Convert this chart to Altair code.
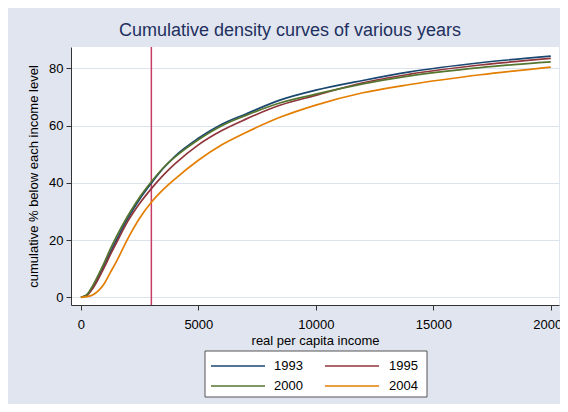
import altair as alt
import pandas as pd

# income grid (x values at which curves were read)
income = [0, 250, 500, 750, 1000, 1250, 1500, 2000, 2500, 3000, 3500, 4000, 5000,
          6000, 7000, 8500, 10000, 12000, 14000, 17000, 20000]

cum_1993 = [0, 0.7, 3.4, 7.0, 11.2, 15.6, 19.8, 27.6, 34.3, 39.9, 45.0, 49.3, 55.6,
            60.5, 64.0, 69.0, 72.4, 75.8, 78.8, 82.0, 84.3]
cum_1995 = [0, 0.6, 3.0, 6.5, 10.5, 14.8, 18.8, 26.6, 32.8, 38.0, 42.6, 46.6, 53.3,
            58.3, 62.2, 67.2, 70.6, 75.0, 78.0, 81.2, 83.5]
cum_2000 = [0, 0.9, 4.0, 7.9, 12.2, 16.8, 21.0, 28.5, 35.0, 40.4, 45.2, 49.0, 55.1,
            60.0, 63.5, 68.0, 71.0, 74.6, 77.4, 80.3, 82.3]
cum_2004 = [0, 0.2, 0.8, 2.3, 4.8, 8.6, 12.3, 20.5, 27.6, 33.2, 37.6, 41.3, 47.9,
            53.3, 57.5, 63.0, 67.2, 71.5, 74.4, 77.8, 80.5]

years = ["1993", "1995", "2000", "2004"]
colors = ["#1A476F", "#90353B", "#55752F", "#E37E00"]
ref_income = [3000]

series = {"1993": cum_1993, "1995": cum_1995, "2000": cum_2000, "2004": cum_2004}
rows = []
for i, y in enumerate(years):
    for xv, cv in zip(income, series[y]):
        rows.append({"income": xv, "cum": cv, "year": y, "order": i})
df = pd.DataFrame(rows)
ref_df = pd.DataFrame({"income": ref_income})

# legend layout (pixel positions relative to the plot area), 2 columns x 2 rows
leg_rows = []
for i, (y, c) in enumerate(zip(years, colors)):
    col, row = i % 2, i // 2
    leg_rows.append({"year": y, "color": c,
                     "lx1": 140 + col * 114, "lx2": 194 + col * 114,
                     "ly": 319 + row * 20, "tx": 232 + col * 115})
leg_df = pd.DataFrame(leg_rows)
box_df = pd.DataFrame({"bx1": [134], "bx2": [356], "by1": [304], "by2": [350]})

FONT = "Liberation Sans"

xscale = alt.Scale(domain=[-420, 20350], nice=False, zero=False)
yscale = alt.Scale(domain=[-2.7, 87.5], nice=False, zero=False)

lines = alt.Chart(df).mark_line(strokeWidth=1.7, interpolate="monotone").encode(
    x=alt.X("income:Q", scale=xscale,
            axis=alt.Axis(title="real per capita income", values=[0, 5000, 10000, 15000, 20000],
                          format="d", grid=False, labelFlush=False, labelOverlap=False,
                          labelPadding=8, titlePadding=3)),
    y=alt.Y("cum:Q", scale=yscale,
            axis=alt.Axis(title="cumulative % below each income level", values=[0, 20, 40, 60, 80],
                          grid=True, labelPadding=3, titlePadding=8)),
    color=alt.Color("year:N", scale=alt.Scale(domain=years, range=colors), legend=None),
    order=alt.Order("order:Q"),
)

rule = alt.Chart(ref_df).mark_rule(color="#C83C64", strokeWidth=1.5).encode(
    x=alt.X("income:Q", scale=xscale)
)

box = alt.Chart(box_df).mark_rect(fill="#FFFFFF", stroke="#555555", strokeWidth=1).encode(
    x=alt.X("bx1:Q", scale=None, axis=None), x2="bx2:Q",
    y=alt.Y("by1:Q", scale=None, axis=None), y2="by2:Q",
)
leg_lines = alt.Chart(leg_df).mark_rule(strokeWidth=1.5).encode(
    x=alt.X("lx1:Q", scale=None, axis=None), x2="lx2:Q",
    y=alt.Y("ly:Q", scale=None, axis=None),
    color=alt.Color("color:N", scale=None, legend=None),
)
leg_text = alt.Chart(leg_df).mark_text(align="right", baseline="middle", fontSize=13,
                                       font=FONT, color="#000000").encode(
    x=alt.X("tx:Q", scale=None, axis=None),
    y=alt.Y("ly:Q", scale=None, axis=None),
    text="year:N",
)

chart = alt.layer(rule, lines, box, leg_lines, leg_text).properties(
    width=488, height=258,
    autosize=alt.AutoSizeParams(type="none"),
    padding={"left": 63, "top": 39, "right": 1, "bottom": 99},
    background="#E1E5EF",
    title=alt.TitleParams("Cumulative density curves of various years", fontSize=18, font=FONT,
                          fontWeight="normal", color="#1E3060", anchor="middle", dx=-25, offset=6),
).configure_view(fill="#FFFFFF", stroke=None).configure_axis(
    labelFont=FONT, titleFont=FONT, labelFontSize=13, titleFontSize=13,
    labelColor="#000000", titleColor="#000000", titleFontWeight="normal",
    domainColor="#333333", tickColor="#333333", tickSize=5,
    gridColor="#DCE2EE", gridWidth=1,
)

chart.save("out.html", embed_options={"renderer": "svg", "actions": False})
